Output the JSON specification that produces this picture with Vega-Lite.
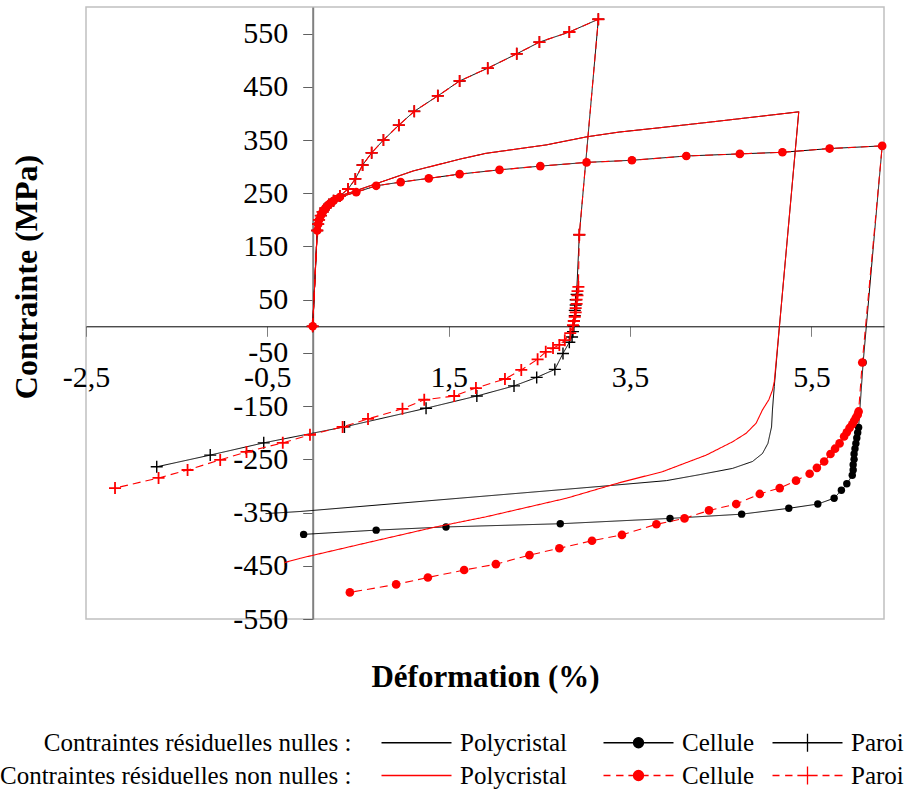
{
"$schema": "https://vega.github.io/schema/vega-lite/v6.json",
"width": 798, "height": 612,
"autosize": {"type": "none"},
"padding": {"left": 86, "top": 7, "right": 21, "bottom": 170},
"background": "white",
"config": {"view": {"stroke": "#c0c0c0", "strokeWidth": 1.5}, "font": "Liberation Serif",
  "legend": {"labelFont": "Liberation Serif", "titleFont": "Liberation Serif", "labelFontSize": 25, "labelColor": "#000000"}},
"data": {"values": [
{"s":"n_poly","i":0,"x":0,"y":0},{"s":"n_poly","i":1,"x":0.05,"y":180},{"s":"n_poly","i":2,"x":0.07,"y":200},{"s":"n_poly","i":3,"x":0.10,"y":215},{"s":"n_poly","i":4,"x":0.15,"y":228},{"s":"n_poly","i":5,"x":0.22,"y":238},{"s":"n_poly","i":6,"x":0.30,"y":245},{"s":"n_poly","i":7,"x":0.48,"y":255},{"s":"n_poly","i":8,"x":0.70,"y":268},{"s":"n_poly","i":9,"x":1.11,"y":292},{"s":"n_poly","i":10,"x":1.62,"y":314},{"s":"n_poly","i":11,"x":1.91,"y":325},{"s":"n_poly","i":12,"x":2.58,"y":341},{"s":"n_poly","i":13,"x":3.02,"y":356},{"s":"n_poly","i":14,"x":3.38,"y":365},{"s":"n_poly","i":15,"x":3.82,"y":373},{"s":"n_poly","i":16,"x":4.50,"y":386},{"s":"n_poly","i":17,"x":5.36,"y":403},
{"s":"n_poly","i":18,"x":5.15,"y":6},{"s":"n_poly","i":19,"x":5.09,"y":-113},{"s":"n_poly","i":20,"x":5.07,"y":-157},{"s":"n_poly","i":21,"x":5.06,"y":-189},{"s":"n_poly","i":22,"x":5.02,"y":-220},{"s":"n_poly","i":23,"x":4.96,"y":-239},{"s":"n_poly","i":24,"x":4.85,"y":-254},{"s":"n_poly","i":25,"x":4.63,"y":-267},{"s":"n_poly","i":26,"x":4.26,"y":-279},{"s":"n_poly","i":27,"x":3.90,"y":-290},{"s":"n_poly","i":28,"x":3.16,"y":-301},{"s":"n_poly","i":29,"x":1.62,"y":-323},{"s":"n_poly","i":30,"x":-0.14,"y":-348},{"s":"n_poly","i":31,"x":-0.52,"y":-352},
{"s":"r_poly","i":0,"x":0,"y":0},{"s":"r_poly","i":1,"x":0.05,"y":180},{"s":"r_poly","i":2,"x":0.07,"y":200},{"s":"r_poly","i":3,"x":0.10,"y":215},{"s":"r_poly","i":4,"x":0.15,"y":228},{"s":"r_poly","i":5,"x":0.22,"y":238},{"s":"r_poly","i":6,"x":0.30,"y":245},{"s":"r_poly","i":7,"x":0.48,"y":255},{"s":"r_poly","i":8,"x":0.70,"y":268},{"s":"r_poly","i":9,"x":1.11,"y":292},{"s":"r_poly","i":10,"x":1.62,"y":314},{"s":"r_poly","i":11,"x":1.91,"y":325},{"s":"r_poly","i":12,"x":2.58,"y":341},{"s":"r_poly","i":13,"x":3.02,"y":356},{"s":"r_poly","i":14,"x":3.38,"y":365},{"s":"r_poly","i":15,"x":3.82,"y":373},{"s":"r_poly","i":16,"x":4.50,"y":386},{"s":"r_poly","i":17,"x":5.36,"y":403},
{"s":"r_poly","i":18,"x":5.15,"y":6},{"s":"r_poly","i":19,"x":5.09,"y":-104},{"s":"r_poly","i":20,"x":5.07,"y":-120},{"s":"r_poly","i":21,"x":5.03,"y":-138},{"s":"r_poly","i":22,"x":4.96,"y":-157},{"s":"r_poly","i":23,"x":4.89,"y":-182},{"s":"r_poly","i":24,"x":4.78,"y":-201},{"s":"r_poly","i":25,"x":4.63,"y":-217},{"s":"r_poly","i":26,"x":4.34,"y":-242},{"s":"r_poly","i":27,"x":3.86,"y":-273},{"s":"r_poly","i":28,"x":3.38,"y":-294},{"s":"r_poly","i":29,"x":2.80,"y":-323},{"s":"r_poly","i":30,"x":1.91,"y":-358},{"s":"r_poly","i":31,"x":1.33,"y":-378},{"s":"r_poly","i":32,"x":0.59,"y":-407},{"s":"r_poly","i":33,"x":-0.14,"y":-436},{"s":"r_poly","i":34,"x":-0.31,"y":-444},
{"s":"n_cell","i":0,"x":0,"y":0},{"s":"n_cell","i":1,"x":0.05,"y":180},{"s":"n_cell","i":2,"x":0.06,"y":192},{"s":"n_cell","i":3,"x":0.07,"y":200},{"s":"n_cell","i":4,"x":0.09,"y":208},{"s":"n_cell","i":5,"x":0.11,"y":215},{"s":"n_cell","i":6,"x":0.14,"y":222},{"s":"n_cell","i":7,"x":0.18,"y":229},{"s":"n_cell","i":8,"x":0.23,"y":236},{"s":"n_cell","i":9,"x":0.30,"y":243},{"s":"n_cell","i":10,"x":0.48,"y":252},{"s":"n_cell","i":11,"x":0.70,"y":264},{"s":"n_cell","i":12,"x":0.97,"y":271},{"s":"n_cell","i":13,"x":1.28,"y":278},{"s":"n_cell","i":14,"x":1.62,"y":286},{"s":"n_cell","i":15,"x":2.06,"y":294},{"s":"n_cell","i":16,"x":2.51,"y":301},{"s":"n_cell","i":17,"x":3.02,"y":308},{"s":"n_cell","i":18,"x":3.52,"y":312},{"s":"n_cell","i":19,"x":4.12,"y":320},{"s":"n_cell","i":20,"x":4.71,"y":324},{"s":"n_cell","i":21,"x":5.18,"y":327},{"s":"n_cell","i":22,"x":5.70,"y":334},{"s":"n_cell","i":23,"x":6.28,"y":339},
{"s":"n_cell","i":24,"x":6.07,"y":-68},{"s":"n_cell","i":25,"x":6.02,"y":-190},{"s":"n_cell","i":26,"x":6.01,"y":-200},{"s":"n_cell","i":27,"x":6.00,"y":-210},{"s":"n_cell","i":28,"x":5.99,"y":-220},{"s":"n_cell","i":29,"x":5.98,"y":-230},{"s":"n_cell","i":30,"x":5.97,"y":-240},{"s":"n_cell","i":31,"x":5.97,"y":-250},{"s":"n_cell","i":32,"x":5.96,"y":-260},{"s":"n_cell","i":33,"x":5.96,"y":-270},{"s":"n_cell","i":34,"x":5.95,"y":-280},{"s":"n_cell","i":35,"x":5.89,"y":-296},{"s":"n_cell","i":36,"x":5.83,"y":-308},{"s":"n_cell","i":37,"x":5.75,"y":-323},{"s":"n_cell","i":38,"x":5.57,"y":-334},{"s":"n_cell","i":39,"x":5.25,"y":-342},{"s":"n_cell","i":40,"x":4.73,"y":-353},{"s":"n_cell","i":41,"x":3.94,"y":-361},{"s":"n_cell","i":42,"x":2.73,"y":-371},{"s":"n_cell","i":43,"x":1.47,"y":-377},{"s":"n_cell","i":44,"x":0.70,"y":-383},{"s":"n_cell","i":45,"x":-0.10,"y":-391},
{"s":"r_cell","i":0,"x":0,"y":0},{"s":"r_cell","i":1,"x":0.05,"y":180},{"s":"r_cell","i":2,"x":0.06,"y":192},{"s":"r_cell","i":3,"x":0.07,"y":200},{"s":"r_cell","i":4,"x":0.09,"y":208},{"s":"r_cell","i":5,"x":0.11,"y":215},{"s":"r_cell","i":6,"x":0.14,"y":222},{"s":"r_cell","i":7,"x":0.18,"y":229},{"s":"r_cell","i":8,"x":0.23,"y":236},{"s":"r_cell","i":9,"x":0.30,"y":243},{"s":"r_cell","i":10,"x":0.48,"y":252},{"s":"r_cell","i":11,"x":0.70,"y":264},{"s":"r_cell","i":12,"x":0.97,"y":271},{"s":"r_cell","i":13,"x":1.28,"y":278},{"s":"r_cell","i":14,"x":1.62,"y":286},{"s":"r_cell","i":15,"x":2.06,"y":294},{"s":"r_cell","i":16,"x":2.51,"y":301},{"s":"r_cell","i":17,"x":3.02,"y":308},{"s":"r_cell","i":18,"x":3.52,"y":312},{"s":"r_cell","i":19,"x":4.12,"y":320},{"s":"r_cell","i":20,"x":4.71,"y":324},{"s":"r_cell","i":21,"x":5.18,"y":327},{"s":"r_cell","i":22,"x":5.70,"y":334},{"s":"r_cell","i":23,"x":6.28,"y":339},
{"s":"r_cell","i":24,"x":6.06,"y":-68},{"s":"r_cell","i":25,"x":6.02,"y":-160},{"s":"r_cell","i":26,"x":6.01,"y":-166},{"s":"r_cell","i":27,"x":5.99,"y":-172},{"s":"r_cell","i":28,"x":5.97,"y":-178},{"s":"r_cell","i":29,"x":5.95,"y":-184},{"s":"r_cell","i":30,"x":5.92,"y":-191},{"s":"r_cell","i":31,"x":5.89,"y":-199},{"s":"r_cell","i":32,"x":5.86,"y":-207},{"s":"r_cell","i":33,"x":5.81,"y":-220},{"s":"r_cell","i":34,"x":5.76,"y":-230},{"s":"r_cell","i":35,"x":5.71,"y":-240},{"s":"r_cell","i":36,"x":5.64,"y":-254},{"s":"r_cell","i":37,"x":5.56,"y":-266},{"s":"r_cell","i":38,"x":5.48,"y":-277},{"s":"r_cell","i":39,"x":5.33,"y":-290},{"s":"r_cell","i":40,"x":5.15,"y":-304},{"s":"r_cell","i":41,"x":4.93,"y":-315},{"s":"r_cell","i":42,"x":4.67,"y":-334},{"s":"r_cell","i":43,"x":4.37,"y":-346},{"s":"r_cell","i":44,"x":4.10,"y":-361},{"s":"r_cell","i":45,"x":3.79,"y":-372},{"s":"r_cell","i":46,"x":3.41,"y":-392},{"s":"r_cell","i":47,"x":3.08,"y":-403},{"s":"r_cell","i":48,"x":2.72,"y":-417},{"s":"r_cell","i":49,"x":2.39,"y":-430},{"s":"r_cell","i":50,"x":2.02,"y":-447},{"s":"r_cell","i":51,"x":1.67,"y":-458},{"s":"r_cell","i":52,"x":1.27,"y":-472},{"s":"r_cell","i":53,"x":0.92,"y":-485},{"s":"r_cell","i":54,"x":0.41,"y":-500},
{"s":"n_paroi","i":0,"x":0,"y":0},{"s":"n_paroi","i":1,"x":0.05,"y":180},{"s":"n_paroi","i":2,"x":0.06,"y":192},{"s":"n_paroi","i":3,"x":0.07,"y":200},{"s":"n_paroi","i":4,"x":0.09,"y":208},{"s":"n_paroi","i":5,"x":0.11,"y":215},{"s":"n_paroi","i":6,"x":0.14,"y":222},{"s":"n_paroi","i":7,"x":0.18,"y":229},{"s":"n_paroi","i":8,"x":0.23,"y":236},{"s":"n_paroi","i":9,"x":0.30,"y":245},{"s":"n_paroi","i":10,"x":0.39,"y":258},{"s":"n_paroi","i":11,"x":0.47,"y":277},{"s":"n_paroi","i":12,"x":0.55,"y":303},{"s":"n_paroi","i":13,"x":0.65,"y":326},{"s":"n_paroi","i":14,"x":0.78,"y":350},{"s":"n_paroi","i":15,"x":0.95,"y":378},{"s":"n_paroi","i":16,"x":1.12,"y":404},{"s":"n_paroi","i":17,"x":1.38,"y":433},{"s":"n_paroi","i":18,"x":1.62,"y":461},{"s":"n_paroi","i":19,"x":1.93,"y":485},{"s":"n_paroi","i":20,"x":2.25,"y":512},{"s":"n_paroi","i":21,"x":2.50,"y":534},{"s":"n_paroi","i":22,"x":2.83,"y":553},{"s":"n_paroi","i":23,"x":3.15,"y":577},
{"s":"n_paroi","i":24,"x":2.94,"y":172},{"s":"n_paroi","i":25,"x":2.91,"y":60},{"s":"n_paroi","i":26,"x":2.90,"y":50},{"s":"n_paroi","i":27,"x":2.90,"y":40},{"s":"n_paroi","i":28,"x":2.89,"y":30},{"s":"n_paroi","i":29,"x":2.89,"y":20},{"s":"n_paroi","i":30,"x":2.88,"y":10},{"s":"n_paroi","i":31,"x":2.88,"y":0},{"s":"n_paroi","i":32,"x":2.87,"y":-10},{"s":"n_paroi","i":33,"x":2.86,"y":-20},{"s":"n_paroi","i":34,"x":2.83,"y":-30},{"s":"n_paroi","i":35,"x":2.76,"y":-51},{"s":"n_paroi","i":36,"x":2.67,"y":-81},{"s":"n_paroi","i":37,"x":2.47,"y":-96},{"s":"n_paroi","i":38,"x":2.22,"y":-112},{"s":"n_paroi","i":39,"x":1.81,"y":-131},{"s":"n_paroi","i":40,"x":1.25,"y":-154},{"s":"n_paroi","i":41,"x":0.35,"y":-189},{"s":"n_paroi","i":42,"x":-0.54,"y":-219},{"s":"n_paroi","i":43,"x":-1.13,"y":-242},{"s":"n_paroi","i":44,"x":-1.72,"y":-264},
{"s":"r_paroi","i":0,"x":0,"y":0},{"s":"r_paroi","i":1,"x":0.05,"y":180},{"s":"r_paroi","i":2,"x":0.06,"y":192},{"s":"r_paroi","i":3,"x":0.07,"y":200},{"s":"r_paroi","i":4,"x":0.09,"y":208},{"s":"r_paroi","i":5,"x":0.11,"y":215},{"s":"r_paroi","i":6,"x":0.14,"y":222},{"s":"r_paroi","i":7,"x":0.18,"y":229},{"s":"r_paroi","i":8,"x":0.23,"y":236},{"s":"r_paroi","i":9,"x":0.30,"y":245},{"s":"r_paroi","i":10,"x":0.39,"y":258},{"s":"r_paroi","i":11,"x":0.47,"y":277},{"s":"r_paroi","i":12,"x":0.55,"y":303},{"s":"r_paroi","i":13,"x":0.65,"y":326},{"s":"r_paroi","i":14,"x":0.78,"y":350},{"s":"r_paroi","i":15,"x":0.95,"y":378},{"s":"r_paroi","i":16,"x":1.12,"y":404},{"s":"r_paroi","i":17,"x":1.38,"y":433},{"s":"r_paroi","i":18,"x":1.62,"y":461},{"s":"r_paroi","i":19,"x":1.93,"y":485},{"s":"r_paroi","i":20,"x":2.25,"y":512},{"s":"r_paroi","i":21,"x":2.50,"y":534},{"s":"r_paroi","i":22,"x":2.83,"y":553},{"s":"r_paroi","i":23,"x":3.15,"y":577},
{"s":"r_paroi","i":24,"x":2.94,"y":172},{"s":"r_paroi","i":25,"x":2.93,"y":74},{"s":"r_paroi","i":26,"x":2.92,"y":66},{"s":"r_paroi","i":27,"x":2.92,"y":58},{"s":"r_paroi","i":28,"x":2.91,"y":50},{"s":"r_paroi","i":29,"x":2.91,"y":42},{"s":"r_paroi","i":30,"x":2.90,"y":34},{"s":"r_paroi","i":31,"x":2.90,"y":26},{"s":"r_paroi","i":32,"x":2.89,"y":18},{"s":"r_paroi","i":33,"x":2.88,"y":10},{"s":"r_paroi","i":34,"x":2.87,"y":2},{"s":"r_paroi","i":35,"x":2.84,"y":-13},{"s":"r_paroi","i":36,"x":2.78,"y":-26},{"s":"r_paroi","i":37,"x":2.72,"y":-35},{"s":"r_paroi","i":38,"x":2.65,"y":-41},{"s":"r_paroi","i":39,"x":2.57,"y":-48},{"s":"r_paroi","i":40,"x":2.48,"y":-62},{"s":"r_paroi","i":41,"x":2.30,"y":-82},{"s":"r_paroi","i":42,"x":2.12,"y":-99},{"s":"r_paroi","i":43,"x":1.80,"y":-116},{"s":"r_paroi","i":44,"x":1.56,"y":-131},{"s":"r_paroi","i":45,"x":1.23,"y":-138},{"s":"r_paroi","i":46,"x":0.99,"y":-155},{"s":"r_paroi","i":47,"x":0.61,"y":-174},{"s":"r_paroi","i":48,"x":0.33,"y":-189},{"s":"r_paroi","i":49,"x":-0.03,"y":-204},{"s":"r_paroi","i":50,"x":-0.33,"y":-219},{"s":"r_paroi","i":51,"x":-0.73,"y":-236},{"s":"r_paroi","i":52,"x":-1.02,"y":-251},{"s":"r_paroi","i":53,"x":-1.38,"y":-270},{"s":"r_paroi","i":54,"x":-1.70,"y":-285},{"s":"r_paroi","i":55,"x":-2.18,"y":-304}
]},
"encoding": {
  "x": {"field": "x", "type": "quantitative", "scale": {"domain": [-2.5, 6.3], "nice": false, "zero": false},
    "axis": {"title": "Déformation (%)", "values": [-2.5, -0.5, 1.5, 3.5, 5.5], "labelExpr": "replace(datum.value + '', '.', ',')",
      "offset": -292.7, "grid": false, "tickSize": 10, "tickColor": "#808080", "tickWidth": 1, "domainColor": "#000000", "domainWidth": 1,
      "labelFont": "Liberation Serif", "labelFontSize": 30, "labelColor": "#000000", "labelPadding": 26, "labelFlush": false, "labelOverlap": false, "labelBound": false,
      "titleFont": "Liberation Serif", "titleFontSize": 31, "titleFontWeight": "bold", "titleColor": "#000000",
      "titleX": 399, "titleY": 360, "titleBaseline": "alphabetic", "titleAlign": "center", "titleAngle": 0}},
  "y": {"field": "y", "type": "quantitative", "scale": {"domain": [-550, 600], "nice": false, "zero": false},
    "axis": {"title": "Contrainte (MPa)", "values": [-550, -450, -350, -250, -150, -50, 50, 150, 250, 350, 450, 550], "labelExpr": "datum.value + ''",
      "offset": -226.7, "grid": false, "tickSize": 10, "tickColor": "#606060", "tickWidth": 1, "domainColor": "#808080", "domainWidth": 2,
      "labelFont": "Liberation Serif", "labelFontSize": 30, "labelColor": "#000000", "labelPadding": 15, "labelFlush": false, "labelOverlap": false, "labelBound": false,
      "titleFont": "Liberation Serif", "titleFontSize": 32, "titleFontWeight": "bold", "titleColor": "#000000",
      "titleX": -276, "titleY": 269.5, "titleBaseline": "alphabetic", "titleAlign": "center", "titleAngle": -90}},
  "order": {"field": "i", "type": "quantitative"}
},
"layer": [
  {"transform": [{"filter": "indexof(datum.s, 'n_') == 0"}],
   "mark": {"type": "line", "strokeWidth": 1},
   "encoding": {
     "color": {"field": "s", "type": "nominal", "legend": null, "scale": {"domain": ["n_poly","n_cell","n_paroi","r_poly","r_cell","r_paroi"], "range": ["#000000","#000000","#000000","#ff0000","#ff0000","#ff0000"]}},
     "strokeDash": {"field": "s", "type": "nominal", "legend": null, "scale": {"domain": ["n_poly","n_cell","n_paroi","r_poly","r_cell","r_paroi"], "range": [[1,0],[1,0],[1,0],[1,0],[8,5],[8,5]]}}
   }},
  {"transform": [{"filter": "datum.s == 'n_cell'"}],
   "mark": {"type": "point", "shape": "circle", "filled": true, "size": 55, "opacity": 1},
   "encoding": {"color": {"field": "s", "type": "nominal", "legend": null}}},
  {"transform": [{"filter": "datum.s == 'n_paroi'"}],
   "mark": {"type": "point", "shape": "M-1,0H1M0,-1V1", "filled": false, "size": 144, "strokeWidth": 1.4, "opacity": 1},
   "encoding": {"color": {"field": "s", "type": "nominal", "legend": null}}},
  {"transform": [{"filter": "indexof(datum.s, 'r_') == 0"}],
   "mark": {"type": "line", "strokeWidth": 1.1},
   "encoding": {
     "color": {"field": "s", "type": "nominal", "legend": null},
     "strokeDash": {"field": "s", "type": "nominal", "legend": null}
   }},
  {"transform": [{"filter": "datum.s == 'r_cell'"}],
   "mark": {"type": "point", "shape": "circle", "filled": true, "size": 75, "opacity": 1},
   "encoding": {"color": {"field": "s", "type": "nominal", "legend": null}}},
  {"transform": [{"filter": "datum.s == 'r_paroi'"}],
   "mark": {"type": "point", "shape": "M-1,0H1M0,-1V1", "filled": false, "size": 144, "strokeWidth": 1.8, "opacity": 1},
   "encoding": {"color": {"field": "s", "type": "nominal", "legend": null}}},
  {"transform": [{"filter": "false"}],
   "mark": {"type": "point", "filled": true, "opacity": 1, "strokeWidth": 1.3},
   "encoding": {
     "fill": {"field": "s", "type": "nominal",
       "scale": {"domain": ["h1","n_poly","n_cell","n_paroi","h2","r_poly","r_cell","r_paroi"], "range": ["transparent","#000000","#000000","#000000","transparent","#ff0000","#ff0000","#ff0000"]},
       "legend": {"orient": "none", "legendX": -165, "legendY": 722, "direction": "horizontal", "columns": 4, "title": null,
         "symbolSize": 625, "symbolOffset": 22, "symbolStrokeWidth": 1.3, "labelFont": "Liberation Serif", "labelFontSize": 25, "labelColor": "#000000",
         "labelLimit": 700, "labelOffset": 30, "columnPadding": 14, "rowPadding": 6, "padding": 0,
         "labelExpr": "datum.value == 'h1' ? '\u200b\u00a0\u00a0\u00a0\u00a0\u00a0\u00a0\u00a0Contraintes résiduelles nulles :' : datum.value == 'h2' ? 'Contraintes résiduelles non nulles :\u00a0\u00a0\u200b' : indexof(datum.value, 'poly') >= 0 ? 'Polycristal\u00a0\u00a0\u00a0\u200b' : indexof(datum.value, 'cell') >= 0 ? 'Cellule' : 'Paroi'"}},
     "stroke": {"field": "s", "type": "nominal",
       "scale": {"domain": ["h1","n_poly","n_cell","n_paroi","h2","r_poly","r_cell","r_paroi"], "range": ["transparent","#000000","#000000","#000000","transparent","#ff0000","#ff0000","#ff0000"]},
       "legend": {"orient": "none", "legendX": -165, "legendY": 722, "direction": "horizontal", "columns": 4, "title": null,
         "symbolSize": 625, "symbolOffset": 22, "symbolStrokeWidth": 1.3, "labelFont": "Liberation Serif", "labelFontSize": 25, "labelColor": "#000000",
         "labelLimit": 700, "labelOffset": 30, "columnPadding": 14, "rowPadding": 6, "padding": 0,
         "labelExpr": "datum.value == 'h1' ? '\u200b\u00a0\u00a0\u00a0\u00a0\u00a0\u00a0\u00a0Contraintes résiduelles nulles :' : datum.value == 'h2' ? 'Contraintes résiduelles non nulles :\u00a0\u00a0\u200b' : indexof(datum.value, 'poly') >= 0 ? 'Polycristal\u00a0\u00a0\u00a0\u200b' : indexof(datum.value, 'cell') >= 0 ? 'Cellule' : 'Paroi'"}},
     "shape": {"field": "s", "type": "nominal",
       "scale": {"domain": ["h1","n_poly","n_cell","n_paroi","h2","r_poly","r_cell","r_paroi"],
         "range": ["M0,0", "M-2.8,0H2.8", "M-2.8,0H2.8M0.4,0A0.4,0.4 0 1 1 -0.4,0A0.4,0.4 0 1 1 0.4,0Z", "M-2.8,0H2.8M0,-0.72V0.72",
                   "M0,0", "M-2.8,0H2.8", "M-2.8,0H-2.24M-1.79,0H-1.2M-0.81,0H0.81M1.2,0H1.76M2.16,0H2.8M0.4,0A0.4,0.4 0 1 1 -0.4,0A0.4,0.4 0 1 1 0.4,0Z", "M-2.8,0H-2.24M-1.79,0H-1.2M-0.81,0H0.81M1.2,0H1.76M2.16,0H2.8M0,-0.72V0.72"]},
       "legend": {"orient": "none", "legendX": -165, "legendY": 722, "direction": "horizontal", "columns": 4, "title": null,
         "symbolSize": 625, "symbolOffset": 22, "symbolStrokeWidth": 1.3, "labelFont": "Liberation Serif", "labelFontSize": 25, "labelColor": "#000000",
         "labelLimit": 700, "labelOffset": 30, "columnPadding": 14, "rowPadding": 6, "padding": 0,
         "labelExpr": "datum.value == 'h1' ? '\u200b\u00a0\u00a0\u00a0\u00a0\u00a0\u00a0\u00a0Contraintes résiduelles nulles :' : datum.value == 'h2' ? 'Contraintes résiduelles non nulles :\u00a0\u00a0\u200b' : indexof(datum.value, 'poly') >= 0 ? 'Polycristal\u00a0\u00a0\u00a0\u200b' : indexof(datum.value, 'cell') >= 0 ? 'Cellule' : 'Paroi'"}}
   }}
]
}
